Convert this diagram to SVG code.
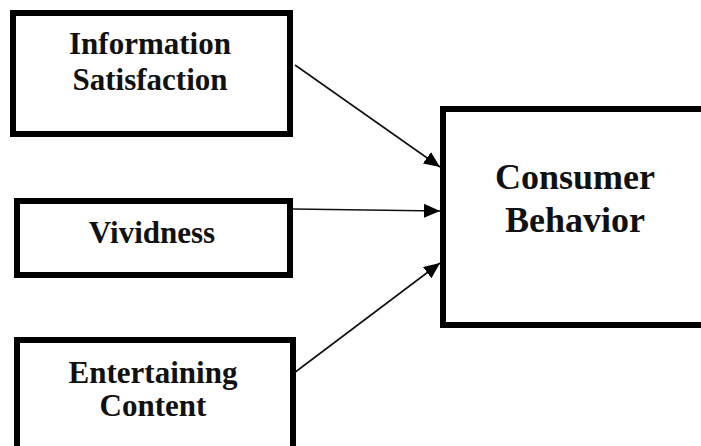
<svg xmlns="http://www.w3.org/2000/svg" width="701" height="446" viewBox="0 0 701 446">
  <defs>
    <style>
      .box { fill: #fff; stroke: #000; stroke-width: 6; }
      .lbl { font-family: "Liberation Serif", "Times New Roman", serif; font-weight: bold; font-size: 31px; fill: #111; text-anchor: middle; }
      .big { font-size: 36px; }
      .conn { stroke: #111; stroke-width: 1.6; fill: none; }
    </style>
    <marker id="arrow" markerUnits="userSpaceOnUse" markerWidth="16" markerHeight="14" refX="16" refY="7" orient="auto">
      <path d="M0,0 L16,7 L0,14 Z" fill="#000"/>
    </marker>
  </defs>
  <rect width="701" height="446" fill="#fff"/>
  <g id="node-information-satisfaction">
    <rect class="box" x="13" y="13" width="277" height="121"/>
    <text class="lbl" x="150" y="54">Information</text>
    <text class="lbl" x="150" y="90">Satisfaction</text>
  </g>
  <g id="node-vividness">
    <rect class="box" x="17" y="201" width="273" height="74"/>
    <text class="lbl" x="152" y="243">Vividness</text>
  </g>
  <g id="node-entertaining-content">
    <rect class="box" x="17" y="340" width="276" height="120"/>
    <text class="lbl" x="153" y="383">Entertaining</text>
    <text class="lbl" x="153" y="416">Content</text>
  </g>
  <g id="node-consumer-behavior">
    <rect class="box" x="443" y="109" width="270" height="216"/>
    <text class="lbl big" x="575" y="189">Consumer</text>
    <text class="lbl big" x="575" y="232">Behavior</text>
  </g>
  <g id="connectors">
    <line class="conn" x1="295" y1="65" x2="440" y2="167" marker-end="url(#arrow)"/>
    <line class="conn" x1="293" y1="209" x2="440" y2="211" marker-end="url(#arrow)"/>
    <line class="conn" x1="294" y1="373" x2="440" y2="263" marker-end="url(#arrow)"/>
  </g>
</svg>
